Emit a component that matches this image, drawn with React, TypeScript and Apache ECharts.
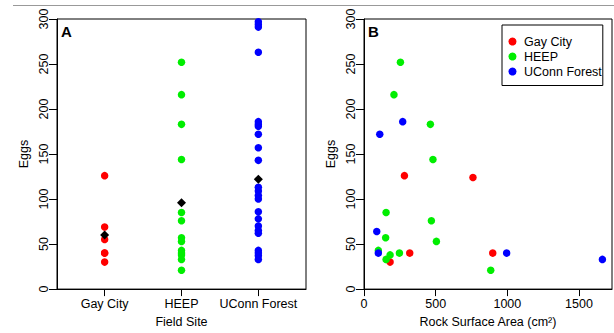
import React, { useEffect, useRef } from "react";
import * as echarts from "echarts";

// Panel A: eggs per rock by field site
const categories = ["Gay City", "HEEP", "UConn Forest"];
const gayCityEggs = [126, 69, 55, 40, 40, 30];
const heepEggs = [252, 216, 183, 144, 85, 76, 57, 53, 43, 40, 38, 33, 21];
const uconnEggs = [297, 294, 291, 263, 186, 183, 181, 172, 157, 143, 113, 109, 104, 100, 86, 78, 70, 65, 62, 43, 40, 37, 33];
const siteMeans = [60, 96, 122];

// Panel B: eggs vs rock surface area (cm²)
const gayCityArea = [282, 760, 319, 898, 182];
const gayCityAreaEggs = [126, 124, 40, 40, 30];
const heepArea = [254, 209, 463, 481, 154, 470, 151, 505, 100, 247, 182, 154, 884];
const heepAreaEggs = [252, 216, 183, 144, 85, 76, 57, 53, 43, 40, 38, 33, 21];
const uconnArea = [110, 270, 89, 100, 995, 1663];
const uconnAreaEggs = [172, 186, 64, 40, 40, 33];

const yTicks = [0, 50, 100, 150, 200, 250, 300];
const xTicksB = [0, 500, 1000, 1500];

const FONT = "Liberation Sans";
const RED = "#ff0000";
const GREEN = "#00ee00";
const BLUE = "#0000ff";

export default function App() {
  const ref = useRef<HTMLDivElement>(null);
  useEffect(() => {
    if (!ref.current) return;
    const chart = echarts.init(ref.current, undefined, { renderer: "svg" });
    const axisText = { color: "#000", fontFamily: FONT, fontSize: 12.5 };
    const yAxisCommon = {
      type: "value",
      min: 0,
      max: 300,
      interval: 50,
      axisLine: { show: true, lineStyle: { color: "#000", width: 1 } },
      axisTick: { show: true, length: 8, lineStyle: { color: "#000" } },
      axisLabel: { ...axisText, rotate: 90, margin: 7, customValues: yTicks },
      splitLine: { show: false },
      name: "Eggs",
      nameLocation: "middle",
      nameGap: 27,
      nameTextStyle: axisText,
    };
    const dot = (name: string, color: string, xi: number, yi: number, data: number[][]) => ({
      type: "scatter",
      name,
      xAxisIndex: xi,
      yAxisIndex: yi,
      symbol: "circle",
      symbolSize: 7.5,
      itemStyle: { color, opacity: 1 },
      data,
      silent: true,
    });
    chart.setOption({
      animation: false,
      textStyle: { fontFamily: FONT },
      grid: [
        { left: 57, top: 19, width: 249, height: 274, show: true, borderColor: "#000", borderWidth: 1 },
        { left: 364, top: 19, width: 248, height: 274, show: true, borderColor: "#000", borderWidth: 1 },
      ],
      xAxis: [
        {
          type: "value",
          gridIndex: 0,
          min: 0.38,
          max: 3.62,
          axisLine: { show: true, lineStyle: { color: "#000" } },
          axisTick: { show: true, length: 7, customValues: [1, 2, 3], lineStyle: { color: "#000" } },
          axisLabel: {
            ...axisText,
            margin: 8,
            customValues: [1, 2, 3],
            formatter: (v: number) => categories[Math.round(v) - 1] ?? "",
          },
          splitLine: { show: false },
          name: "Field Site",
          nameLocation: "middle",
          nameGap: 25,
          nameTextStyle: axisText,
        },
        {
          type: "value",
          gridIndex: 1,
          min: 0,
          max: 1730,
          axisLine: { show: true, lineStyle: { color: "#000" } },
          axisTick: { show: true, length: 7, customValues: xTicksB, lineStyle: { color: "#000" } },
          axisLabel: { ...axisText, margin: 8, customValues: xTicksB, formatter: (v: number) => String(v) },
          splitLine: { show: false },
          name: "Rock Surface Area (cm²)",
          nameLocation: "middle",
          nameGap: 25,
          nameTextStyle: axisText,
        },
      ],
      yAxis: [
        { ...yAxisCommon, gridIndex: 0 },
        { ...yAxisCommon, gridIndex: 1 },
      ],
      legend: {
        left: 502,
        top: 25,
        orient: "vertical",
        backgroundColor: "#fff",
        borderColor: "#000",
        borderWidth: 1,
        padding: [9, 1, 6.5, 6.5],
        itemWidth: 13,
        itemHeight: 8,
        itemGap: 0,
        selectedMode: false,
        textStyle: { ...axisText, lineHeight: 15 },
        data: [
          { name: "Gay City", icon: "circle" },
          { name: "HEEP", icon: "circle" },
          { name: "UConn Forest", icon: "circle" },
        ],
      },
      graphic: [
        { type: "line", shape: { x1: 13, y1: 5.5, x2: 614, y2: 5.5 }, style: { stroke: "#999", lineWidth: 1 } },
        { type: "text", left: 61, top: 24, style: { text: "A", font: `bold 15px ${FONT}`, fill: "#000" } },
        { type: "text", left: 368, top: 24, style: { text: "B", font: `bold 15px ${FONT}`, fill: "#000" } },
      ],
      series: [
        dot("Gay City", RED, 0, 0, gayCityEggs.map((v) => [1, v])),
        dot("HEEP", GREEN, 0, 0, heepEggs.map((v) => [2, v])),
        dot("UConn Forest", BLUE, 0, 0, uconnEggs.map((v) => [3, v])),
        {
          type: "scatter",
          name: "Mean",
          xAxisIndex: 0,
          yAxisIndex: 0,
          symbol: "diamond",
          symbolSize: 9,
          itemStyle: { color: "#000", opacity: 1 },
          z: 5,
          silent: true,
          data: siteMeans.map((v, i) => [i + 1, v]),
        },
        dot("Gay City", RED, 1, 1, gayCityArea.map((a, i) => [a, gayCityAreaEggs[i]])),
        dot("HEEP", GREEN, 1, 1, heepArea.map((a, i) => [a, heepAreaEggs[i]])),
        dot("UConn Forest", BLUE, 1, 1, uconnArea.map((a, i) => [a, uconnAreaEggs[i]])),
      ],
    });
    return () => chart.dispose();
  }, []);
  return (
    <div
      ref={ref}
      style={{ position: "fixed", left: 0, top: 0, width: 614, height: 333, background: "#fff" }}
    />
  );
}
